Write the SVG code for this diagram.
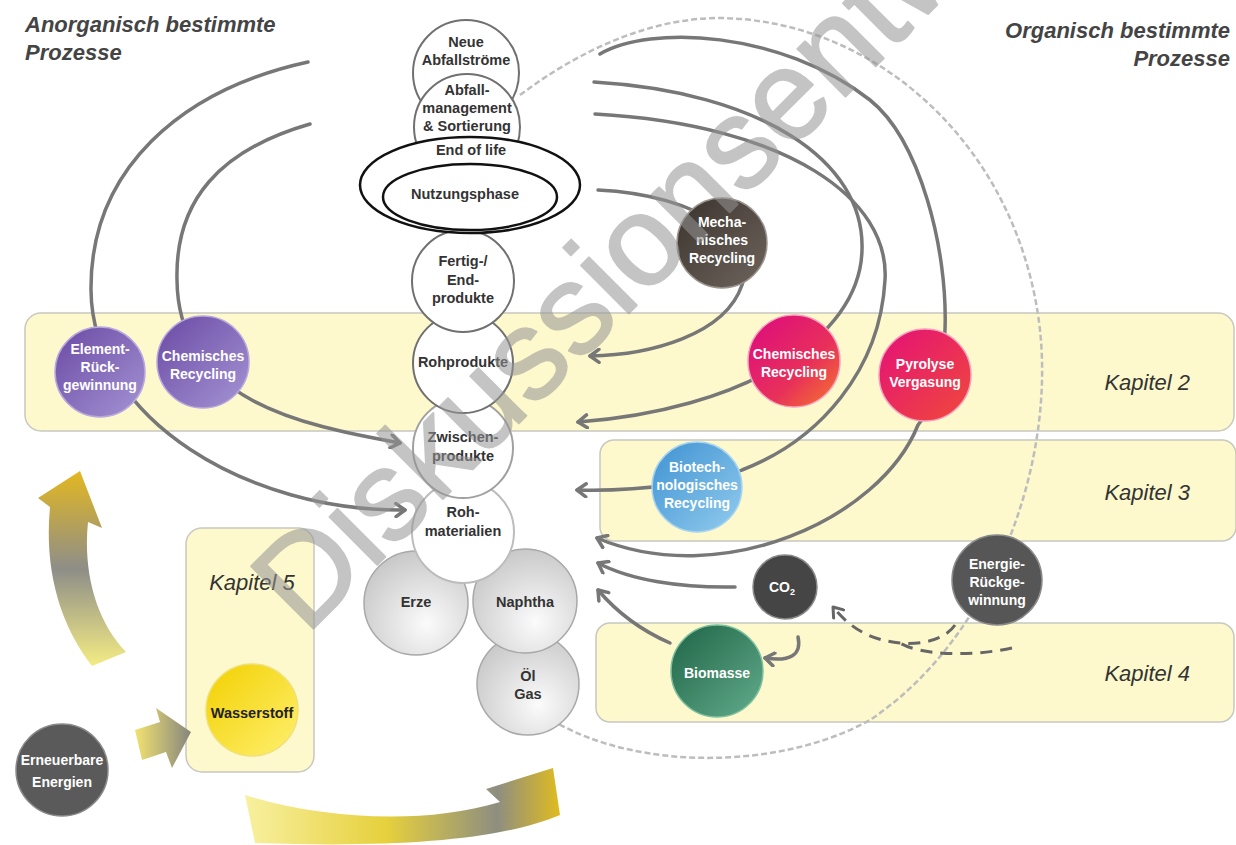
<svg xmlns="http://www.w3.org/2000/svg" width="1236" height="845" viewBox="0 0 1236 845">
<defs>
<style>
.band{fill:#fdf9cc;stroke:#c8c8c0;stroke-width:1.5}
.kap{font-family:"Liberation Sans",Arial,sans-serif;font-style:italic;font-size:22px;fill:#333}
.title{font-family:"Liberation Sans",Arial,sans-serif;font-style:italic;font-weight:bold;font-size:22px;fill:#444}
.lbl{font-family:"Liberation Sans",Arial,sans-serif;font-weight:bold;font-size:14.5px;fill:#333;text-anchor:middle}
.wl{font-family:"Liberation Sans",Arial,sans-serif;font-weight:bold;font-size:14px;fill:#fff;text-anchor:middle}
.wc{fill:#fff;stroke:#707070;stroke-width:2}
.gc{fill:url(#gGray);stroke:#a8a8a8;stroke-width:1.5}
.con{fill:none;stroke:#777;stroke-width:3.5;stroke-linecap:round}
.dash{fill:none;stroke:#666;stroke-width:3;stroke-dasharray:12 8}
</style>
<marker id="ah" markerWidth="16" markerHeight="16" refX="11" refY="8" orient="auto" markerUnits="userSpaceOnUse">
<path d="M2,1.5 L11,8 L2,14.5" fill="none" stroke="#777" stroke-width="3.5" stroke-linecap="round" stroke-linejoin="round"/>
</marker>
<marker id="ahd" markerWidth="16" markerHeight="16" refX="11" refY="8" orient="auto" markerUnits="userSpaceOnUse">
<path d="M2,1.5 L11,8 L2,14.5" fill="none" stroke="#666" stroke-width="3" stroke-linecap="round" stroke-linejoin="round"/>
</marker>
<radialGradient id="gGray" cx="0.6" cy="0.7" r="0.75">
<stop offset="0" stop-color="#fbfbfb"/><stop offset="1" stop-color="#c6c6c6"/>
</radialGradient>
<linearGradient id="gPurple" x1="0" y1="0" x2="1" y2="1">
<stop offset="0" stop-color="#6a4aa4"/><stop offset="1" stop-color="#a594d4"/>
</linearGradient>
<linearGradient id="gMech" x1="0" y1="0" x2="1" y2="1">
<stop offset="0" stop-color="#3a322c"/><stop offset="1" stop-color="#6e665e"/>
</linearGradient>
<linearGradient id="gPink" x1="0" y1="0" x2="1" y2="1">
<stop offset="0" stop-color="#dc0a80"/><stop offset="0.6" stop-color="#e8305a"/><stop offset="1" stop-color="#f67a28"/>
</linearGradient>
<linearGradient id="gPyro" x1="0" y1="0" x2="1" y2="1">
<stop offset="0" stop-color="#e41078"/><stop offset="1" stop-color="#f04a3a"/>
</linearGradient>
<linearGradient id="gBlue" x1="0" y1="0" x2="1" y2="1">
<stop offset="0" stop-color="#3f92d2"/><stop offset="1" stop-color="#92ccee"/>
</linearGradient>
<linearGradient id="gGreen" x1="0" y1="0" x2="1" y2="1">
<stop offset="0" stop-color="#1f6446"/><stop offset="1" stop-color="#62ac8c"/>
</linearGradient>
<linearGradient id="gYellow" x1="0" y1="0" x2="1" y2="1">
<stop offset="0" stop-color="#f2d000"/><stop offset="1" stop-color="#fff070"/>
</linearGradient>
<linearGradient id="gArrL" gradientUnits="userSpaceOnUse" x1="0" y1="668" x2="0" y2="470">
<stop offset="0" stop-color="#f6ee84"/><stop offset="0.5" stop-color="#8e8e88"/><stop offset="1" stop-color="#e4b820"/>
</linearGradient>
<linearGradient id="gArrB" gradientUnits="userSpaceOnUse" x1="245" y1="0" x2="560" y2="0">
<stop offset="0" stop-color="#f8f0a0"/><stop offset="0.45" stop-color="#e6d03c"/><stop offset="0.8" stop-color="#8e8e80"/><stop offset="1" stop-color="#e0bc20"/>
</linearGradient>
<linearGradient id="gArrS" gradientUnits="userSpaceOnUse" x1="135" y1="0" x2="191" y2="0">
<stop offset="0" stop-color="#f2e270"/><stop offset="1" stop-color="#86867e"/>
</linearGradient>
</defs>
<rect width="1236" height="845" fill="#fff"/>

<g id="bands">
<rect class="band" x="25" y="313" width="1209" height="118" rx="16"/>
<rect class="band" x="600" y="440" width="636" height="101" rx="14"/>
<rect class="band" x="596" y="623" width="638" height="99" rx="14"/>
<rect class="band" x="186" y="528" width="128" height="244" rx="16"/>
<text class="kap" x="1190" y="390" text-anchor="end">Kapitel 2</text>
<text class="kap" x="1190" y="500" text-anchor="end">Kapitel 3</text>
<text class="kap" x="1190" y="681" text-anchor="end">Kapitel 4</text>
<text class="kap" x="252" y="590" text-anchor="middle">Kapitel 5</text>
</g>

<g id="titles">
<text class="title" x="25" y="32">Anorganisch bestimmte</text>
<text class="title" x="25" y="60">Prozesse</text>
<text class="title" x="1230" y="38" text-anchor="end">Organisch bestimmte</text>
<text class="title" x="1230" y="66" text-anchor="end">Prozesse</text>
</g>

<g id="yellow-arrows">
<path d="M92,666 C60,625 44,570 50,507 L38,498 L80,471 L102,528 L88,522 C83,570 95,620 126,652 Z" fill="url(#gArrL)"/>
<path d="M135,730 L160,722 L156,708 L191,732 L172,768 L166,752 L142,760 Z" fill="url(#gArrS)"/>
<path d="M245,795 C320,818 420,826 500,802 L486,789 L553,768 L560,815 C500,840 400,848 255,843 Z" fill="url(#gArrB)"/>
</g>

<g id="connectors">
<path d="M520,95 C580,50 650,18 720,18 C880,20 1020,150 1040,330 C1055,470 990,640 870,720 C780,770 640,770 557,723" fill="none" stroke="#bdbdbd" stroke-width="2.5" stroke-dasharray="6 3"/>
<path class="con" d="M308,62 C180,90 90,170 91,290 C92,420 250,512 405,510" marker-end="url(#ah)"/>
<path class="con" d="M310,124 C220,150 175,200 177,280 C178,400 300,425 400,443" marker-end="url(#ah)"/>
<path class="con" d="M598,190 C700,195 760,240 742,285 C725,335 650,355 590,356" marker-end="url(#ah)"/>
<path class="con" d="M594,82 C760,92 865,160 862,250 C860,340 740,410 578,422" marker-end="url(#ah)"/>
<path class="con" d="M595,114 C790,125 890,200 885,280 C880,370 820,440 742,470 C720,480 640,492 577,490" marker-end="url(#ah)"/>
<path class="con" d="M600,54 C650,25 780,30 870,100 C920,140 948,250 945,330 C942,390 930,410 918,425 C880,520 720,590 597,538" marker-end="url(#ah)"/>
<path class="con" d="M735,587 C680,588 630,580 598,563" marker-end="url(#ah)"/>
<path class="con" d="M670,643 C640,630 615,610 598,590" marker-end="url(#ah)"/>
<path class="con" d="M798,637 C802,655 790,662 765,658" marker-end="url(#ah)"/>
<path class="dash" d="M955,625 C945,640 920,645 900,643 C870,640 850,628 833,607" marker-end="url(#ahd)"/>
<path class="dash" d="M1012,648 C970,657 920,655 900,643"/>
</g>

<g id="oel-gas"><circle class="gc" cx="528" cy="684" r="51"/><text class="lbl" x="528" y="681">Öl</text><text class="lbl" x="528" y="699">Gas</text></g>
<g id="naphtha"><circle class="gc" cx="525" cy="601" r="52"/><text class="lbl" x="525" y="607">Naphtha</text></g>
<g id="erze"><circle class="gc" cx="416" cy="603" r="52"/><text class="lbl" x="416" y="607">Erze</text></g>
<g id="rohmaterialien"><circle cx="463" cy="532" r="51" fill="#fff" stroke="#bcbcbc" stroke-width="2"/><text class="lbl" x="463" y="517">Roh-</text><text class="lbl" x="463" y="536">materialien</text></g>
<g id="zwischenprodukte"><circle cx="463" cy="448" r="50" fill="#fff" stroke="#a0a0a0" stroke-width="2"/><text class="lbl" x="463" y="442">Zwischen-</text><text class="lbl" x="463" y="461">produkte</text></g>
<g id="rohprodukte"><circle class="wc" cx="463" cy="363" r="50"/><text class="lbl" x="463" y="367">Rohprodukte</text></g>
<g id="endprodukte"><circle class="wc" cx="463" cy="281" r="51"/><text class="lbl" x="463" y="266">Fertig-/</text><text class="lbl" x="463" y="285">End-</text><text class="lbl" x="463" y="303">produkte</text></g>
<g id="neue-abfallstroeme"><circle class="wc" cx="466" cy="73" r="53"/><text class="lbl" x="466" y="47">Neue</text><text class="lbl" x="466" y="65">Abfallströme</text></g>
<g id="abfallmanagement"><circle class="wc" cx="467" cy="127" r="53"/><text class="lbl" x="467" y="95">Abfall-</text><text class="lbl" x="467" y="113">management</text><text class="lbl" x="467" y="131">&amp; Sortierung</text></g>
<g id="end-of-life"><ellipse cx="470" cy="185" rx="110" ry="48" fill="#fff" stroke="#111" stroke-width="2.5"/><text class="lbl" x="471" y="155">End of life</text></g>
<g id="nutzungsphase"><ellipse cx="470" cy="197" rx="87" ry="33" fill="#fff" stroke="#111" stroke-width="2.5"/><text class="lbl" x="465" y="199">Nutzungsphase</text></g>

<g id="element-rueckgewinnung"><circle cx="100" cy="372" r="45" fill="url(#gPurple)" stroke="#b8a8e0" stroke-width="1.5"/><text class="wl" x="100" y="354">Element-</text><text class="wl" x="100" y="372">Rück-</text><text class="wl" x="100" y="390">gewinnung</text></g>
<g id="chem-recycling-links"><circle cx="203" cy="362" r="46" fill="url(#gPurple)" stroke="#b8a8e0" stroke-width="1.5"/><text class="wl" x="203" y="361">Chemisches</text><text class="wl" x="203" y="379">Recycling</text></g>
<g id="mech-recycling"><circle cx="722" cy="243" r="45" fill="url(#gMech)" stroke="#9a948e" stroke-width="1.5"/><text class="wl" x="722" y="227">Mecha-</text><text class="wl" x="722" y="245">nisches</text><text class="wl" x="722" y="263">Recycling</text></g>
<g id="chem-recycling-rechts"><circle cx="794" cy="361" r="46" fill="url(#gPink)" stroke="#f4a0c0" stroke-width="1.5"/><text class="wl" x="794" y="359">Chemisches</text><text class="wl" x="794" y="377">Recycling</text></g>
<g id="pyrolyse"><circle cx="925" cy="375" r="46" fill="url(#gPyro)" stroke="#f4a0c0" stroke-width="1.5"/><text class="wl" x="925" y="369">Pyrolyse</text><text class="wl" x="925" y="387">Vergasung</text></g>
<g id="biotech-recycling"><circle cx="697" cy="487" r="45" fill="url(#gBlue)" stroke="#a8d4f0" stroke-width="1.5"/><text class="wl" x="697" y="472">Biotech-</text><text class="wl" x="697" y="490">nologisches</text><text class="wl" x="697" y="508">Recycling</text></g>
<g id="co2"><circle cx="785" cy="587" r="32" fill="#454545" stroke="#888" stroke-width="1.5"/><text class="wl" x="782" y="592">CO<tspan font-size="9" dy="3">2</tspan></text></g>
<g id="energie-rueckgewinnung"><circle cx="997" cy="580" r="45" fill="#565656" stroke="#8a8a8a" stroke-width="1.5"/><text class="wl" x="997" y="569">Energie-</text><text class="wl" x="997" y="587">Rückge-</text><text class="wl" x="997" y="605">winnung</text></g>
<g id="biomasse"><circle cx="717" cy="671" r="46" fill="url(#gGreen)" stroke="#7cc0a0" stroke-width="1.5"/><text class="wl" x="717" y="678">Biomasse</text></g>
<g id="wasserstoff"><circle cx="252" cy="710" r="46" fill="url(#gYellow)" stroke="#f0e07a" stroke-width="1.5"/><text class="lbl" x="252" y="718" style="fill:#222">Wasserstoff</text></g>
<g id="erneuerbare-energien"><circle cx="62" cy="770" r="46" fill="#5a5a5a" stroke="#8a8a8a" stroke-width="1.5"/><text class="wl" x="62" y="765">Erneuerbare</text><text class="wl" x="62" y="787">Energien</text></g>

<g id="watermark">
<text x="0" y="0" transform="translate(306,636) rotate(-45)" font-family="Liberation Sans, Arial, sans-serif" font-size="128" fill="#959595" stroke="#959595" stroke-width="2" stroke-linejoin="round" opacity="0.55">Diskussionsentwurf</text>
</g>
</svg>
